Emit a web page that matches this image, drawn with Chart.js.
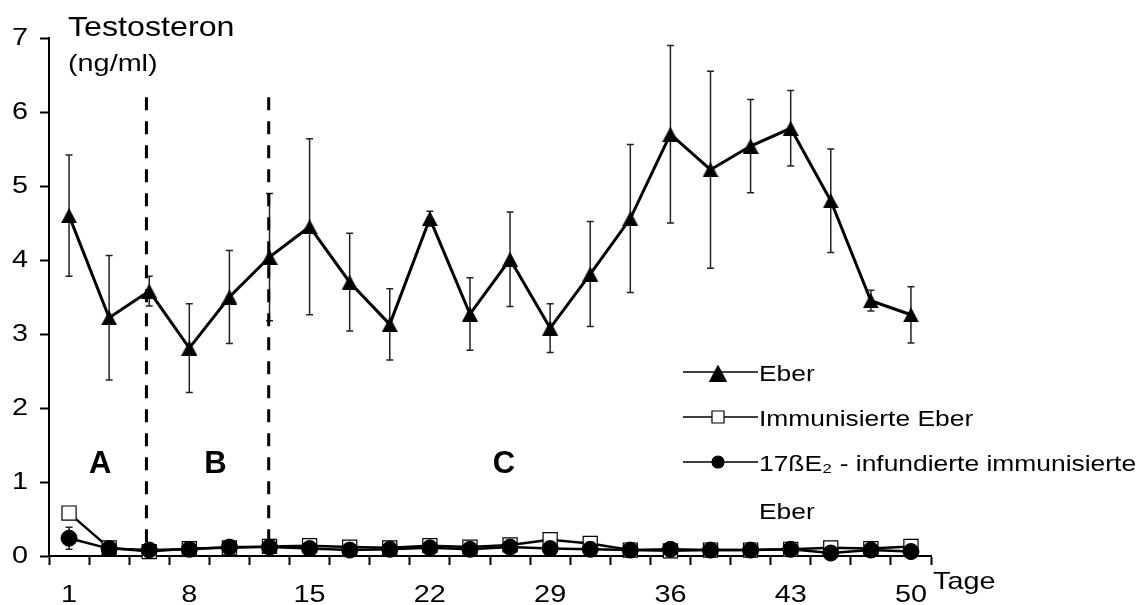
<!DOCTYPE html>
<html>
<head>
<meta charset="utf-8">
<script src="https://cdn.jsdelivr.net/npm/chart.js@4"></script>
<style>
  html, body { margin: 0; padding: 0; background: #fff; }
  #wrap { width: 1145px; height: 605px; position: relative; }
</style>
</head>
<body>
<div id="wrap"><canvas id="myChart"></canvas></div>
<script>
// x-Achse: Messtage, nur jede 3. Messung beschriftet
const tage = ['1', '', '', '8', '', '', '15', '', '', '22', '', '', '29', '', '', '36', '', '', '43', '', '', '50'];
const yTicks = [0, 1, 2, 3, 4, 5, 6, 7];

// Testosteron (ng/ml), Mittelwerte und Fehlerbalken
const eber = [4.60, 3.22, 3.58, 2.81, 3.50, 4.04, 4.45, 3.70, 3.13, 4.56, 3.27, 4.01, 3.08, 3.81, 4.56, 5.70, 5.22, 5.54, 5.78, 4.80, 3.45, 3.26];
const eberFehler = [0.82, 0.84, 0.20, 0.60, 0.63, 0.86, 1.19, 0.66, 0.48, 0.10, 0.49, 0.64, 0.33, 0.71, 1.00, 1.20, 1.33, 0.63, 0.51, 0.70, 0.14, 0.38];
const immunEber = [0.58, 0.11, 0.06, 0.10, 0.11, 0.13, 0.14, 0.12, 0.11, 0.14, 0.12, 0.15, 0.22, 0.17, 0.08, 0.07, 0.08, 0.08, 0.09, 0.11, 0.10, 0.13];
const e2Eber = [0.24, 0.10, 0.08, 0.09, 0.12, 0.12, 0.10, 0.08, 0.09, 0.11, 0.09, 0.12, 0.10, 0.09, 0.08, 0.09, 0.08, 0.08, 0.09, 0.04, 0.08, 0.06];
const e2Fehler = [0.15, 0, 0, 0, 0, 0, 0, 0, 0, 0, 0, 0, 0, 0, 0, 0, 0, 0, 0, 0, 0, 0];

const serienNamen = ['Eber', 'Immunisierte Eber', ['17ßE₂ - infundierte immunisierte', 'Eber']];

// Versuchsphasen A, B, C (Grenzen als Kategorie-Index)
const phasenGrenzen = [1.93, 4.98];
const phasen = ['A', 'B', 'C'];
const phasenMitte = [0.78, 3.65, 10.85];

const FONT = '"Liberation Sans", Arial, sans-serif';

// Dreieck wie in Excel: Mitte des Rahmens liegt auf dem Datenpunkt
function dreieck(w, h) {
    const c = document.createElement('canvas');
    c.width = w; c.height = h;
    const g = c.getContext('2d');
    g.fillStyle = '#000';
    g.beginPath();
    g.moveTo(w / 2, 0); g.lineTo(w, h); g.lineTo(0, h);
    g.closePath();
    g.fill();
    return c;
}
const dreieckPunkt = dreieck(16, 15);
const dreieckLegende = dreieck(18, 17);

function breitText(ctx, text, x, y, size, align, sx, bold) {
    ctx.save();
    ctx.font = (bold ? 'bold ' : '') + size + 'px ' + FONT;
    ctx.textAlign = align;
    ctx.textBaseline = 'alphabetic';
    ctx.fillStyle = '#000';
    ctx.translate(x, y);
    ctx.scale(sx, 1);
    ctx.fillText(text, 0, 0);
    ctx.restore();
}

const extras = {
    id: 'extras',
    beforeDatasetsDraw(chart) {
        // Fehlerbalken
        const ctx = chart.ctx, y = chart.scales.y;
        chart.data.datasets.forEach((ds, di) => {
            if (!ds.fehler) return;
            chart.getDatasetMeta(di).data.forEach((pt, i) => {
                const e = ds.fehler[i];
                if (!e) return;
                const top = y.getPixelForValue(ds.data[i] + e);
                const bot = y.getPixelForValue(ds.data[i] - e);
                ctx.save();
                ctx.strokeStyle = '#222';
                ctx.lineWidth = 1.5;
                ctx.beginPath();
                ctx.moveTo(pt.x, top); ctx.lineTo(pt.x, bot);
                ctx.moveTo(pt.x - 3.5, top); ctx.lineTo(pt.x + 3.5, top);
                ctx.moveTo(pt.x - 3.5, bot); ctx.lineTo(pt.x + 3.5, bot);
                ctx.stroke();
                ctx.restore();
            });
        });
    },
    afterDatasetsDraw(chart) {
        // gestrichelte Phasengrenzen
        const ctx = chart.ctx, x = chart.scales.x, y = chart.scales.y;
        ctx.save();
        ctx.strokeStyle = '#000';
        ctx.lineWidth = 3;
        ctx.setLineDash([13, 11]);
        phasenGrenzen.forEach(g => {
            const px = x.getPixelForValue(g);
            ctx.beginPath();
            ctx.moveTo(px, y.getPixelForValue(6.2));
            ctx.lineTo(px, y.getPixelForValue(0));
            ctx.stroke();
        });
        ctx.restore();
    },
    afterDraw(chart) {
        const ctx = chart.ctx, x = chart.scales.x, y = chart.scales.y;

        yTicks.forEach(v => breitText(ctx, String(v), 28, y.getPixelForValue(v) + 7, 24, 'right', 1.2));
        tage.forEach((t, i) => {
            if (t) breitText(ctx, t, x.getPixelForValue(i), 602, 24, 'center', 1.2);
        });
        breitText(ctx, 'Tage', 933, 589, 24, 'left', 1.2);
        breitText(ctx, 'Testosteron', 68, 36, 28, 'left', 1.15);
        breitText(ctx, '(ng/ml)', 68, 71, 24, 'left', 1.2);

        phasen.forEach((p, i) => breitText(ctx, p, x.getPixelForValue(phasenMitte[i]), 473, 31, 'center', 1, true));

        // Legende
        const zeilen = [372, 417, 462];
        const mRadius = [10.5, 8.5, 6];
        chart.data.datasets.slice().sort((a, b) => b.order - a.order).forEach((ds, i) => {
            const ly = zeilen[i];
            ctx.save();
            ctx.strokeStyle = '#000';
            ctx.lineWidth = 1.5;
            ctx.beginPath();
            ctx.moveTo(683, ly); ctx.lineTo(758, ly);
            ctx.stroke();
            ctx.fillStyle = ds.pointBackgroundColor;
            ctx.strokeStyle = '#000';
            ctx.lineWidth = 1.2;
            const stil = ds.pointStyle === dreieckPunkt ? dreieckLegende : ds.pointStyle;
            Chart.helpers.drawPoint(ctx, {pointStyle: stil, radius: mRadius[i], rotation: 0, borderWidth: 1.2}, 718, ly + (stil === dreieckLegende ? 1 : 0));
            ctx.restore();
            const name = serienNamen[i];
            const teile = Array.isArray(name) ? name : [name];
            teile.forEach((t, k) => breitText(ctx, t, 759, ly + 9 + k * 48, 22, 'left', 1.2));
        });
    }
};

new Chart(document.getElementById('myChart'), {
    type: 'line',
    data: {
        labels: tage,
        datasets: [
            {
                label: 'Eber', data: eber, fehler: eberFehler, order: 2,
                borderColor: '#000', borderWidth: 3,
                pointStyle: dreieckPunkt, pointRadius: 9, pointBackgroundColor: '#000',
                pointBorderColor: '#000', pointBorderWidth: 1, clip: false
            },
            {
                label: 'Immunisierte Eber', data: immunEber, order: 1,
                borderColor: '#000', borderWidth: 2.5,
                pointStyle: 'rect', pointRadius: 10, pointBackgroundColor: '#fff',
                pointBorderColor: '#000', pointBorderWidth: 1.2, clip: false
            },
            {
                label: '17ßE₂ - infundierte immunisierte Eber', data: e2Eber, fehler: e2Fehler, order: 0,
                borderColor: '#000', borderWidth: 2.5,
                pointStyle: 'circle', pointRadius: 8, pointBackgroundColor: '#000',
                pointBorderColor: '#000', pointBorderWidth: 1, clip: false
            }
        ]
    },
    options: {
        responsive: true,
        maintainAspectRatio: false,
        animation: false,
        layout: { padding: { left: 40, top: 38, right: 214, bottom: 40 } },
        plugins: { legend: { display: false }, tooltip: { enabled: false } },
        scales: {
            x: {
                type: 'category', offset: true,
                grid: { offset: true, drawOnChartArea: false, drawTicks: true, tickLength: 9, tickColor: '#000', tickWidth: 2 },
                border: { color: '#000', width: 2 },
                ticks: { display: false, autoSkip: false }
            },
            y: {
                min: 0, max: 7,
                grid: { drawOnChartArea: false, drawTicks: true, tickLength: 9, tickColor: '#000', tickWidth: 2 },
                border: { color: '#000', width: 2 },
                ticks: { display: false, stepSize: 1 }
            }
        }
    },
    plugins: [extras]
});
</script>
</body>
</html>
